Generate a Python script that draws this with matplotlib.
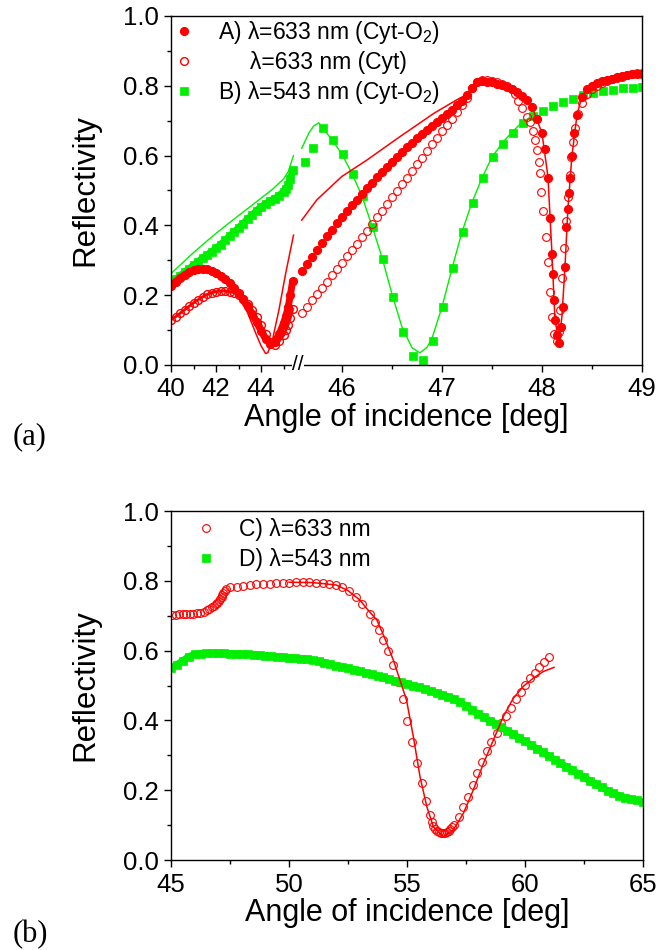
import numpy as np
import matplotlib
matplotlib.use('Agg')
import matplotlib.pyplot as plt
from matplotlib.ticker import FixedLocator, FormatStrFormatter

plt.rcParams['font.family'] = ['Liberation Sans', 'DejaVu Sans']
plt.rcParams['mathtext.fontset'] = 'custom'
plt.rcParams['mathtext.rm'] = 'Liberation Sans'
plt.rcParams['mathtext.default'] = 'regular'

RED = '#ff0000'
GREEN = '#00ee00'

# ---------------- panel (a) data ----------------
# compressed part of the axis (40 .. ~45.5 deg)
ang_seg1 = [40.0, 40.2, 40.4, 40.6, 40.8, 41.0, 41.2, 41.4, 41.6, 41.8,
            42.0, 42.2, 42.4, 42.6, 42.8, 43.0, 43.2, 43.4, 43.6, 43.8,
            44.0, 44.2, 44.4, 44.6, 44.8, 45.0, 45.1, 45.2, 45.3, 45.4]
cytO2_633_seg1 = [0.225, 0.238, 0.249, 0.258, 0.266, 0.271, 0.274, 0.275, 0.274, 0.270,
                  0.264, 0.256, 0.246, 0.234, 0.220, 0.205, 0.188, 0.168, 0.146, 0.122,
                  0.098, 0.074, 0.060, 0.066, 0.088, 0.120, 0.140, 0.165, 0.200, 0.240]
cyt_633_seg1 = [0.130, 0.138, 0.148, 0.158, 0.168, 0.178, 0.187, 0.195, 0.202, 0.207,
                0.210, 0.212, 0.212, 0.210, 0.207, 0.200, 0.190, 0.176, 0.158, 0.137,
                0.114, 0.088, 0.066, 0.058, 0.068, 0.085, 0.100, 0.115, 0.135, 0.160]
cytO2_543_seg1 = [0.235, 0.245, 0.256, 0.266, 0.276, 0.286, 0.296, 0.306, 0.315, 0.325,
                  0.334, 0.345, 0.357, 0.369, 0.381, 0.393, 0.405, 0.418, 0.430, 0.442,
                  0.453, 0.462, 0.470, 0.477, 0.485, 0.497, 0.505, 0.515, 0.532, 0.558]

fit633_seg1 = [(40.0, 0.222), (40.5, 0.250), (41.0, 0.264), (41.3, 0.267), (41.6, 0.265),
               (42.0, 0.257), (42.5, 0.236), (43.0, 0.195), (43.4, 0.150), (43.8, 0.085),
               (44.0, 0.055), (44.2, 0.033), (44.3, 0.035), (44.5, 0.070), (44.8, 0.160),
               (45.1, 0.265), (45.44, 0.372)]
fit543_seg1 = [(40.0, 0.262), (40.5, 0.292), (41.0, 0.322), (41.5, 0.350), (42.0, 0.377),
               (42.5, 0.403), (43.0, 0.428), (43.5, 0.453), (44.0, 0.478), (44.5, 0.503),
               (45.0, 0.533), (45.2, 0.553), (45.44, 0.600)]

# expanded part of the axis (~45.5 .. 49 deg)
cytO2_633_seg2 = [(45.60, 0.270), (45.65, 0.290), (45.70, 0.310), (45.75, 0.330), (45.80, 0.350),
                  (45.85, 0.369), (45.90, 0.388), (45.95, 0.406), (46.00, 0.423), (46.05, 0.440),
                  (46.10, 0.457), (46.15, 0.474), (46.20, 0.490), (46.25, 0.506), (46.30, 0.522),
                  (46.35, 0.538), (46.40, 0.553), (46.45, 0.568), (46.50, 0.583), (46.55, 0.597),
                  (46.60, 0.611), (46.65, 0.624), (46.70, 0.637), (46.75, 0.649), (46.80, 0.661),
                  (46.85, 0.673), (46.90, 0.685), (46.95, 0.697), (47.00, 0.708), (47.05, 0.720),
                  (47.10, 0.732), (47.15, 0.744), (47.20, 0.757), (47.25, 0.773), (47.30, 0.795),
                  (47.35, 0.810), (47.40, 0.813), (47.45, 0.812), (47.50, 0.810), (47.55, 0.806),
                  (47.60, 0.801), (47.65, 0.796), (47.70, 0.790), (47.75, 0.782), (47.80, 0.772),
                  (47.85, 0.760), (47.90, 0.740), (47.95, 0.705), (48.00, 0.665), (48.03, 0.620),
                  (48.06, 0.536), (48.08, 0.420), (48.10, 0.317), (48.11, 0.261), (48.12, 0.185),
                  (48.13, 0.130), (48.15, 0.085), (48.17, 0.064), (48.19, 0.110), (48.21, 0.165),
                  (48.23, 0.280), (48.24, 0.396), (48.26, 0.446), (48.27, 0.492), (48.28, 0.535),
                  (48.30, 0.600), (48.32, 0.664), (48.35, 0.716), (48.40, 0.769), (48.45, 0.790),
                  (48.50, 0.800), (48.55, 0.808), (48.60, 0.813), (48.65, 0.817), (48.70, 0.820),
                  (48.75, 0.824), (48.80, 0.827), (48.85, 0.830), (48.90, 0.833), (48.95, 0.834),
                  (49.00, 0.834)]
cyt_633_seg2 = [(45.60, 0.150), (45.65, 0.167), (45.70, 0.185), (45.75, 0.203), (45.80, 0.221),
                (45.85, 0.239), (45.90, 0.257), (45.95, 0.275), (46.00, 0.293), (46.05, 0.311),
                (46.10, 0.329), (46.15, 0.347), (46.20, 0.366), (46.25, 0.385), (46.30, 0.404),
                (46.35, 0.423), (46.40, 0.442), (46.45, 0.461), (46.50, 0.480), (46.55, 0.499),
                (46.60, 0.518), (46.65, 0.537), (46.70, 0.556), (46.75, 0.575), (46.80, 0.594),
                (46.85, 0.613), (46.90, 0.632), (46.95, 0.651), (47.00, 0.669), (47.05, 0.687),
                (47.10, 0.705), (47.15, 0.725), (47.20, 0.745), (47.25, 0.765), (47.30, 0.795),
                (47.35, 0.812), (47.40, 0.816), (47.45, 0.816), (47.50, 0.814), (47.55, 0.811),
                (47.60, 0.806), (47.65, 0.800), (47.70, 0.790), (47.73, 0.775), (47.76, 0.755),
                (47.80, 0.735), (47.85, 0.711), (47.88, 0.695), (47.91, 0.670), (47.93, 0.645),
                (47.95, 0.615), (47.97, 0.583), (47.98, 0.549), (47.99, 0.497), (48.01, 0.440),
                (48.04, 0.368), (48.06, 0.296), (48.08, 0.210), (48.10, 0.138), (48.12, 0.089),
                (48.15, 0.070), (48.17, 0.095), (48.18, 0.158), (48.20, 0.248), (48.22, 0.334),
                (48.24, 0.413), (48.26, 0.480), (48.28, 0.544), (48.29, 0.597), (48.31, 0.640),
                (48.33, 0.680), (48.36, 0.720), (48.40, 0.750), (48.45, 0.775), (48.50, 0.790),
                (48.55, 0.800), (48.60, 0.808), (48.65, 0.813), (48.70, 0.818), (48.75, 0.822),
                (48.80, 0.826), (48.85, 0.830), (48.90, 0.834), (48.95, 0.836), (49.00, 0.837)]
cytO2_543_seg2 = [(45.63, 0.581), (45.71, 0.623), (45.81, 0.680), (45.91, 0.645), (46.01, 0.604),
                  (46.11, 0.548), (46.21, 0.485), (46.31, 0.395), (46.41, 0.304), (46.51, 0.196),
                  (46.61, 0.094), (46.71, 0.025), (46.81, 0.013), (46.91, 0.069), (47.01, 0.165),
                  (47.11, 0.277), (47.21, 0.382), (47.31, 0.465), (47.41, 0.537), (47.51, 0.595),
                  (47.61, 0.633), (47.71, 0.664), (47.81, 0.693), (47.91, 0.713), (48.01, 0.728),
                  (48.11, 0.742), (48.21, 0.754), (48.31, 0.762), (48.41, 0.774), (48.51, 0.780),
                  (48.61, 0.785), (48.71, 0.788), (48.81, 0.793), (48.91, 0.795), (49.00, 0.796)]

fit633_seg2 = [(45.60, 0.415), (45.75, 0.473), (46.00, 0.540), (46.25, 0.587), (46.58, 0.654),
               (46.92, 0.721), (47.15, 0.760), (47.27, 0.778), (47.32, 0.800), (47.38, 0.812),
               (47.50, 0.810), (47.60, 0.801), (47.70, 0.790), (47.80, 0.772), (47.90, 0.740),
               (48.00, 0.665), (48.06, 0.540), (48.10, 0.320), (48.13, 0.130), (48.17, 0.065),
               (48.20, 0.140), (48.23, 0.280), (48.26, 0.450), (48.30, 0.600), (48.35, 0.716),
               (48.40, 0.770), (48.50, 0.800), (48.60, 0.813), (48.80, 0.827), (49.00, 0.834)]
fit543_seg2 = [(45.60, 0.621), (45.67, 0.664), (45.72, 0.685), (45.77, 0.694), (45.82, 0.675),
               (45.90, 0.646), (46.00, 0.605), (46.10, 0.550), (46.20, 0.485), (46.30, 0.400),
               (46.40, 0.310), (46.50, 0.205), (46.60, 0.110), (46.70, 0.050), (46.78, 0.035),
               (46.85, 0.050), (46.90, 0.075), (47.00, 0.165), (47.10, 0.275), (47.20, 0.380),
               (47.30, 0.465), (47.40, 0.535), (47.50, 0.595), (47.60, 0.635), (47.70, 0.667),
               (47.80, 0.695), (47.90, 0.713)]

# ---------------- panel (b) data ----------------
c_633 = [(45.05, 0.703), (45.20, 0.703), (45.35, 0.704), (45.50, 0.705), (45.65, 0.705),
         (45.80, 0.706), (45.95, 0.706), (46.10, 0.708), (46.23, 0.709), (46.38, 0.712),
         (46.51, 0.716), (46.62, 0.720), (46.72, 0.724), (46.81, 0.728), (46.89, 0.733),
         (46.96, 0.737), (47.03, 0.742), (47.09, 0.748), (47.14, 0.754), (47.18, 0.759),
         (47.22, 0.764), (47.27, 0.770), (47.32, 0.776), (47.50, 0.781), (47.78, 0.783),
         (48.06, 0.786), (48.34, 0.788), (48.62, 0.790), (48.90, 0.791), (49.18, 0.792),
         (49.46, 0.793), (49.74, 0.794), (50.02, 0.795), (50.30, 0.796), (50.58, 0.796),
         (50.86, 0.796), (51.14, 0.795), (51.42, 0.794), (51.70, 0.792), (51.98, 0.788),
         (52.26, 0.781), (52.54, 0.770), (52.82, 0.754), (53.10, 0.733), (53.43, 0.705),
         (53.64, 0.683), (53.81, 0.659), (54.00, 0.630), (54.21, 0.599), (54.42, 0.559),
         (54.63, 0.511), (54.82, 0.460), (55.01, 0.399), (55.23, 0.339), (55.41, 0.279),
         (55.62, 0.222), (55.81, 0.170), (55.97, 0.129), (56.05, 0.110), (56.12, 0.097),
         (56.20, 0.089), (56.28, 0.083), (56.36, 0.080), (56.44, 0.078), (56.52, 0.077),
         (56.60, 0.078), (56.68, 0.080), (56.76, 0.084), (56.84, 0.089), (56.92, 0.095),
         (57.00, 0.100), (57.20, 0.122), (57.38, 0.151), (57.60, 0.181), (57.78, 0.215),
         (57.98, 0.250), (58.19, 0.282), (58.40, 0.312), (58.58, 0.339), (58.80, 0.365),
         (59.00, 0.392), (59.19, 0.413), (59.39, 0.437), (59.62, 0.461), (59.81, 0.482),
         (60.00, 0.501), (60.21, 0.521), (60.42, 0.537), (60.61, 0.552), (60.82, 0.568),
         (61.02, 0.581)]
fit_c_633 = [(50.00, 0.796), (51.00, 0.795), (52.00, 0.788), (52.50, 0.772), (53.00, 0.745),
             (53.40, 0.712), (53.72, 0.688), (54.00, 0.645), (54.42, 0.573), (54.70, 0.516),
             (54.98, 0.458), (55.27, 0.353), (55.55, 0.239), (55.84, 0.153), (56.12, 0.095),
             (56.54, 0.067), (56.96, 0.086), (57.39, 0.134), (57.81, 0.201), (58.24, 0.277),
             (58.66, 0.344), (59.08, 0.411), (59.50, 0.463), (59.92, 0.497), (60.35, 0.521),
             (60.77, 0.540), (61.23, 0.552)]
d_ang = [45.00, 45.25, 45.50, 45.75, 46.00, 46.25, 46.50, 46.75, 47.00, 47.25,
         47.50, 47.75, 48.00, 48.25, 48.50, 48.75, 49.00, 49.25, 49.50, 49.75,
         50.00, 50.25, 50.50, 50.75, 51.00, 51.25, 51.50, 51.75, 52.00, 52.25,
         52.50, 52.75, 53.00, 53.25, 53.50, 53.75, 54.00, 54.25, 54.50, 54.75,
         55.00, 55.25, 55.50, 55.75, 56.00, 56.25, 56.50, 56.75, 57.00, 57.25,
         57.50, 57.75, 58.00, 58.25, 58.50, 58.75, 59.00, 59.25, 59.50, 59.75,
         60.00, 60.25, 60.50, 60.75, 61.00, 61.25, 61.50, 61.75, 62.00, 62.25,
         62.50, 62.75, 63.00, 63.25, 63.50, 63.75, 64.00, 64.25, 64.50, 64.75, 65.00]
d_543 = [0.550, 0.560, 0.571, 0.583, 0.589, 0.591, 0.592, 0.592, 0.592, 0.592,
         0.591, 0.590, 0.590, 0.589, 0.588, 0.587, 0.586, 0.584, 0.583, 0.581,
         0.580, 0.578, 0.577, 0.575, 0.572, 0.569, 0.565, 0.561, 0.557, 0.553,
         0.549, 0.545, 0.541, 0.536, 0.532, 0.527, 0.523, 0.518, 0.514, 0.509,
         0.505, 0.500, 0.495, 0.490, 0.485, 0.479, 0.473, 0.467, 0.461, 0.452,
         0.442, 0.430, 0.419, 0.409, 0.399, 0.390, 0.380, 0.370, 0.360, 0.350,
         0.340, 0.330, 0.319, 0.309, 0.298, 0.288, 0.278, 0.267, 0.257, 0.247,
         0.237, 0.227, 0.217, 0.208, 0.199, 0.191, 0.184, 0.179, 0.175, 0.171, 0.167]

# ---------------- broken x axis for (a) ----------------
XB = 45.54        # where the compressed part joins the expanded part
SQZ = 0.225       # compression of the 40..45.5 part


def fwd(x):
    x = np.asarray(x, dtype=float)
    return np.where(x <= XB, (x - 40) * SQZ, (XB - 40) * SQZ + (x - XB))


def inv(y):
    y = np.asarray(y, dtype=float)
    yb = (XB - 40) * SQZ
    return np.where(y <= yb, 40 + y / SQZ, XB + (y - yb))


def xy(pairs):
    a = np.array(pairs)
    return a[:, 0], a[:, 1]


def style_axes(ax):
    for s in ax.spines.values():
        s.set_linewidth(1.0)
    ax.tick_params(which='both', direction='out', top=False, right=False,
                   labelsize=18.5, width=1.0)
    ax.tick_params(which='major', length=5, pad=4)
    ax.tick_params(which='minor', length=3)
    ax.set_ylim(0, 1.0)
    ax.yaxis.set_major_locator(FixedLocator([0.0, 0.2, 0.4, 0.6, 0.8, 1.0]))
    ax.yaxis.set_minor_locator(FixedLocator([0.1, 0.3, 0.5, 0.7, 0.9]))
    ax.yaxis.set_major_formatter(FormatStrFormatter('%.1f'))
    ax.set_ylabel('Reflectivity', fontsize=22.5)
    ax.yaxis.set_label_coords(-0.15, 0.5)
    ax.set_xlabel('Angle of incidence [deg]', fontsize=22, labelpad=1)


fig = plt.figure(figsize=(6.58, 9.5), dpi=100)
ax1 = fig.add_axes([0.2599, 0.6158, 0.7158, 0.3674])
ax2 = fig.add_axes([0.2599, 0.0947, 0.7173, 0.3674])

ms = 5.6
band = 5.0   # width of the strip under dense marker runs
# ---- (a) ----
ax1.set_xscale('function', functions=(fwd, inv))
ax1.set_xlim(40, 49)

g2x, g2y = xy(cytO2_543_seg2)
ax1.plot(ang_seg1, cytO2_543_seg1, '-', lw=band, color=GREEN, solid_capstyle='butt')
ax1.plot(ang_seg1, cytO2_543_seg1, 's', ms=ms, color=GREEN, mec=GREEN, mew=0.5,
         label='B) \u03bb=543 nm (Cyt-O$_2$)')
ax1.plot(g2x, g2y, 's', ms=ms, color=GREEN, mec=GREEN, mew=0.5)
fx, fy = xy(fit543_seg1)
ax1.plot(fx, fy, '-', color=GREEN, lw=1.0)
fx, fy = xy(fit543_seg2)
ax1.plot(fx, fy, '-', color=GREEN, lw=1.0)

o2x, o2y = xy(cyt_633_seg2)
ax1.plot(ang_seg1, cyt_633_seg1, 'o', ms=ms, mfc='none', mec=RED, mew=1.0,
         label='     \u03bb=633 nm (Cyt)')
ax1.plot(ang_seg1, cyt_633_seg1, '-', lw=2.0, color=RED)
ax1.plot(o2x, o2y, 'o', ms=ms, mfc='none', mec=RED, mew=0.8)

f2x, f2y = xy(cytO2_633_seg2)
ax1.plot(ang_seg1, cytO2_633_seg1, '-', lw=band, color=RED, solid_capstyle='round')
ax1.plot(ang_seg1, cytO2_633_seg1, 'o', ms=ms, color=RED, mec=RED,
         label='A) \u03bb=633 nm (Cyt-O$_2$)')
ax1.plot(f2x, f2y, 'o', ms=ms, color=RED, mec=RED)
fx, fy = xy(fit633_seg1)
ax1.plot(fx, fy, '-', color=RED, lw=1.1)
fx, fy = xy(fit633_seg2)
ax1.plot(fx, fy, '-', color=RED, lw=1.1)

ax1.xaxis.set_major_locator(FixedLocator([40, 42, 44, 46, 47, 48, 49]))
ax1.xaxis.set_minor_locator(FixedLocator([41, 43, 45, 46.5, 47.5, 48.5]))
ax1.xaxis.set_major_formatter(FormatStrFormatter('%d'))
style_axes(ax1)

h, l = ax1.get_legend_handles_labels()
ax1.legend([h[2], h[1], h[0]], [l[2], l[1], l[0]], loc='upper left',
           bbox_to_anchor=(0.004, 0.99), frameon=False, fontsize=16.5,
           handlelength=1.0, handletextpad=0.95, borderaxespad=0, borderpad=0,
           labelspacing=0.2, numpoints=1)

# break mark on the x axis
ax1.text(XB + 0.02, 0, '//', ha='center', va='center', fontsize=15,
         bbox=dict(fc='white', ec='none', pad=0.3), clip_on=False, zorder=5)

# ---- (b) ----
cx, cy = xy(c_633)
ax2.plot(cx, cy, 'o', ms=ms, mfc='none', mec=RED, mew=0.8, label='C) \u03bb=633 nm')
ax2.plot(d_ang, d_543, '-', lw=band, color=GREEN, solid_capstyle='butt')
ax2.plot(d_ang, d_543, 's', ms=ms, color=GREEN, mec=GREEN, mew=0.5, label='D) \u03bb=543 nm')
fx, fy = xy(fit_c_633)
ax2.plot(fx, fy, '-', color=RED, lw=1.1)
ax2.set_xlim(45, 65)
ax2.xaxis.set_major_locator(FixedLocator([45, 50, 55, 60, 65]))
ax2.xaxis.set_minor_locator(FixedLocator([47.5, 52.5, 57.5, 62.5]))
ax2.xaxis.set_major_formatter(FormatStrFormatter('%d'))
style_axes(ax2)
ax2.legend(loc='upper left', bbox_to_anchor=(0.05, 0.98), frameon=False, fontsize=16.5,
           handlelength=1.0, handletextpad=0.95, borderaxespad=0, borderpad=0,
           labelspacing=0.3, numpoints=1)

fig.text(13 / 658, 1 - 437 / 950, '(a)', family='Liberation Serif', fontsize=22,
         ha='left', va='center')
fig.text(13 / 658, 1 - 935 / 950, '(b)', family='Liberation Serif', fontsize=22,
         ha='left', va='center')

fig.savefig('out.png', dpi=100)
